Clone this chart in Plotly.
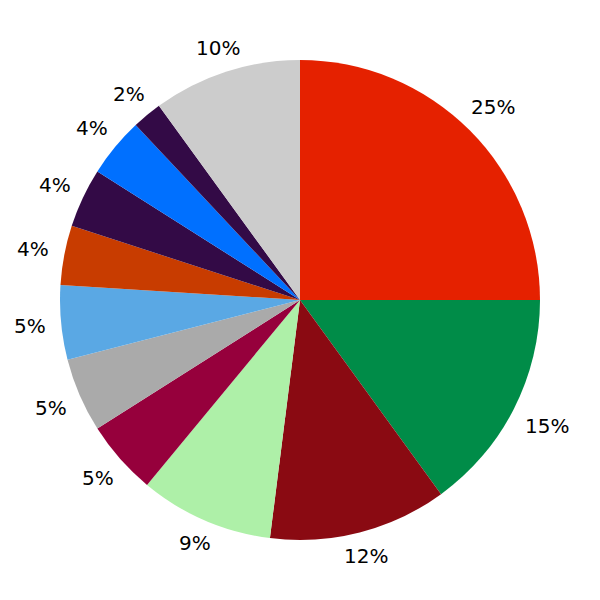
import math
import plotly.graph_objects as go

labels = ["A", "B", "C", "D", "E", "F", "G", "H", "I", "J", "K", "L"]
values = [25, 15, 12, 9, 5, 5, 5, 4, 4, 4, 2, 10]
colors = ["#E52100", "#008C48", "#8A0A12", "#AEF0A8", "#96003C", "#AAAAAA",
          "#5AA8E4", "#C83C00", "#330A46", "#0070FF", "#330A46", "#CCCCCC"]

FONT_SIZE = 20
DOMAIN_PX = 480
LABEL_GAP_PX = 255.5

fig = go.Figure(go.Pie(
    labels=labels,
    values=values,
    sort=False,
    direction="clockwise",
    rotation=0,
    marker=dict(colors=colors, line=dict(width=0)),
    textinfo="none",
    hoverinfo="label+percent",
))

# percentage labels placed just outside the rim, centred on each slice's mid-angle
total = sum(values)
cum = 0.0
char_w = {"%": 0.95}
annotations = []
for v in values:
    mid = (cum + v / 2) / total
    cum += v
    theta = 2 * math.pi * mid
    txt = f"{round(100 * v / total)}%"
    hw = sum(char_w.get(c, 0.636) for c in txt) * FONT_SIZE / 2
    hh = 3.0
    d = LABEL_GAP_PX + hw * abs(math.sin(theta)) + hh * abs(math.cos(theta))
    annotations.append(dict(
        x=0.5 + d * math.sin(theta) / DOMAIN_PX,
        y=0.5 + d * math.cos(theta) / DOMAIN_PX,
        xref="paper", yref="paper",
        text=txt, showarrow=False,
        xanchor="center", yanchor="middle",
        font=dict(family="DejaVu Sans", size=FONT_SIZE, color="black"),
    ))

fig.update_layout(
    width=600, height=600,
    margin=dict(l=52, r=68, t=52, b=68),
    showlegend=False,
    paper_bgcolor="white",
    plot_bgcolor="white",
    annotations=annotations,
)
fig.write_html("out.html")
